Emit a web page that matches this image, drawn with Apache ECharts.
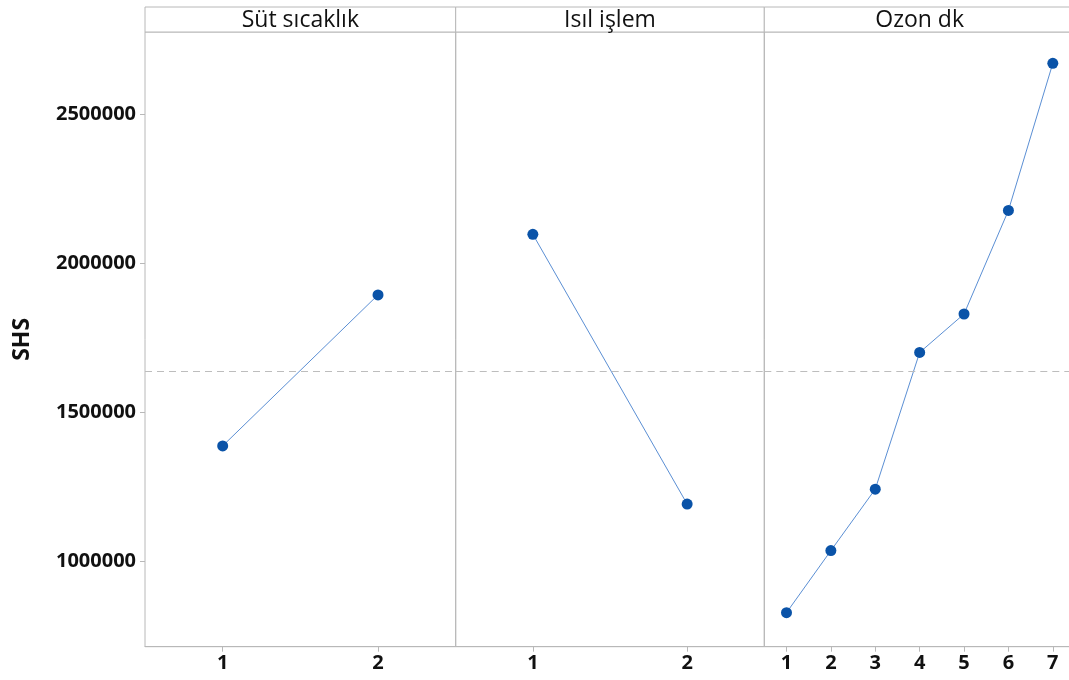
<!DOCTYPE html>
<html>
<head>
<meta charset="utf-8">
<script src="https://cdn.jsdelivr.net/npm/echarts@6/dist/echarts.min.js"></script>
<style>
html,body{margin:0;padding:0;background:#fff;}
#c{width:1069px;height:680px;}
</style>
</head>
<body>
<div id="c"></div>
<script>
// ---- data ----
const panelTitles = ['Süt sıcaklık', 'Isıl işlem', 'Ozon dk'];
const sutLevels = ['1', '2'];
const isilLevels = ['1', '2'];
const ozonLevels = ['1', '2', '3', '4', '5', '6', '7'];
const sutMeans = [1388000, 1894000];
const isilMeans = [2097000, 1193000];
const ozonMeans = [829000, 1037000, 1243000, 1701000, 1830000, 2177000, 2670000];
const overallMean = 1638000;
const yTickValues = [1000000, 1500000, 2000000, 2500000];
const yAxisTitle = 'SHS';

// ---- layout ----
const FONT = '"Open Sans", "Noto Sans", sans-serif';
const GRID_TOP = 32, GRID_BOTTOM = 33.3, STRIP_TOP = 7;
const edges = [145, 455.7, 764.3, 1075];
const frameColor = '#b8b8b8';
const lineColor = '#5b8fd4';
const dotColor = '#0a53a8';

const levelSets = [sutLevels, isilLevels, ozonLevels];
const valueSets = [sutMeans, isilMeans, ozonMeans];

const chart = echarts.init(document.getElementById('c'));

const grids = [0, 1, 2].map(i => ({
  left: edges[i], top: GRID_TOP, width: edges[i + 1] - edges[i], bottom: GRID_BOTTOM,
  outerBoundsMode: 'none', containLabel: false,
  show: true, borderColor: frameColor, borderWidth: 1, backgroundColor: 'transparent'
}));

const xAxes = levelSets.map((lv, i) => ({
  type: 'category', gridIndex: i, data: lv, boundaryGap: true,
  axisLine: { show: true, lineStyle: { color: frameColor, width: 1 } },
  axisTick: { show: true, alignWithLabel: true, length: 5, lineStyle: { color: frameColor } },
  axisLabel: { color: '#111', fontFamily: FONT, fontWeight: 'bold', fontSize: 20, margin: 7 },
  splitLine: { show: false }
}));

const yAxes = [0, 1, 2].map(i => ({
  type: 'value', gridIndex: i, min: 715000, max: 2775000,
  name: i === 0 ? yAxisTitle : '',
  nameLocation: 'middle', nameGap: 111, nameRotate: 90,
  nameTextStyle: { color: '#111', fontFamily: FONT, fontWeight: 'bold', fontSize: 23 },
  axisLine: { show: false },
  axisTick: { show: i === 0, length: 5, lineStyle: { color: frameColor }, customValues: yTickValues },
  axisLabel: { show: i === 0, color: '#111', fontFamily: FONT, fontWeight: 'bold', fontSize: 20, margin: 9,
               customValues: yTickValues, formatter: v => String(Math.round(v)) },
  splitLine: { show: false }
}));

const series = valueSets.map((vals, i) => ({
  type: 'line', xAxisIndex: i, yAxisIndex: i, data: vals,
  symbol: 'circle', symbolSize: 11,
  lineStyle: { color: lineColor, width: 1 },
  itemStyle: { color: dotColor },
  silent: true, animation: false,
  markLine: {
    silent: true, symbol: 'none', label: { show: false },
    lineStyle: { color: '#bdbdbd', type: [7, 5], width: 1.2 },
    data: [{ yAxis: overallMean }],
    animation: false
  }
}));

const graphics = [];
[0, 1, 2].forEach(i => {
  const l = edges[i], w = edges[i + 1] - edges[i];
  graphics.push({
    type: 'rect', shape: { x: l, y: STRIP_TOP, width: w, height: GRID_TOP - STRIP_TOP },
    style: { fill: '#fff', stroke: frameColor, lineWidth: 1 }, z: 10
  });
  graphics.push({
    type: 'text', x: l + w / 2, y: STRIP_TOP + (GRID_TOP - STRIP_TOP) / 2 + 1,
    style: { text: panelTitles[i], fill: '#111', font: '23px ' + FONT, textAlign: 'center', textVerticalAlign: 'middle' },
    z: 11
  });
});

chart.setOption({
  backgroundColor: '#fff',
  animation: false,
  grid: grids,
  xAxis: xAxes,
  yAxis: yAxes,
  series: series,
  graphic: graphics
});
</script>
</body>
</html>
